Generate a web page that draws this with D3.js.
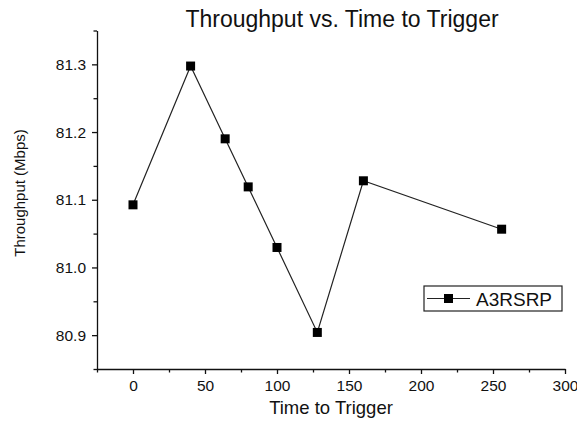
<!DOCTYPE html>
<meta charset="utf-8">
<style>
body { margin: 0; background: #fff; }
text { font-family: Arial, "Liberation Sans", sans-serif; fill: #111; }
.axis path, .axis line { stroke: #111; stroke-width: 1.3px; }
</style>
<svg width="577" height="423"></svg>
<script src="https://cdn.jsdelivr.net/npm/d3@7"></script>
<script>

var ttt = [0, 40, 64, 80, 100, 128, 160, 256];
var throughput = [81.0925, 81.2975, 81.190, 81.119, 81.0295, 80.904, 81.128, 81.0565];
var xTicks = [0, 50, 100, 150, 200, 250, 300];
var xMinor = [-25, 25, 75, 125, 175, 225, 275];
var yTicks = [80.9, 81.0, 81.1, 81.2, 81.3];
var yMinor = [80.85, 80.95, 81.05, 81.15, 81.25, 81.35];
var seriesName = "A3RSRP";

var svg = d3.select("svg");

var x = d3.scaleLinear().domain([-25, 300]).range([97, 565]);
var y = d3.scaleLinear().domain([80.85, 81.35]).range([369, 30.5]);

// minor ticks first
svg.append("g")
    .attr("class", "axis")
    .attr("transform", "translate(0,369)")
    .call(d3.axisBottom(x).tickValues(xMinor).tickSize(3.5).tickFormat(""))
    .select(".domain").remove();

svg.append("g")
    .attr("class", "axis")
    .attr("transform", "translate(97,0)")
    .call(d3.axisLeft(y).tickValues(yMinor).tickSize(3.5).tickFormat(""))
    .select(".domain").remove();

var xAxis = svg.append("g")
    .attr("class", "axis")
    .attr("transform", "translate(0,369)")
    .call(d3.axisBottom(x).tickValues(xTicks).tickSizeInner(5).tickSizeOuter(0).tickPadding(6));
xAxis.selectAll("text").style("font-size", "15.5px");

var yAxis = svg.append("g")
    .attr("class", "axis")
    .attr("transform", "translate(97,0)")
    .call(d3.axisLeft(y).tickValues(yTicks).tickFormat(d3.format(".1f")).tickSizeInner(5).tickSizeOuter(0).tickPadding(6));
yAxis.selectAll("text").style("font-size", "15.5px");

// series
var pts = ttt.map(function(d, i) { return [d, throughput[i]]; });

svg.append("path")
    .datum(pts)
    .attr("fill", "none")
    .attr("stroke", "#222")
    .attr("stroke-width", 1.2)
    .attr("d", d3.line().x(function(d) { return x(d[0]); }).y(function(d) { return y(d[1]); }));

svg.selectAll("rect.pt")
    .data(pts)
    .enter().append("rect")
      .attr("class", "pt")
      .attr("x", function(d) { return x(d[0]) - 4.5; })
      .attr("y", function(d) { return y(d[1]) - 4.5; })
      .attr("width", 9)
      .attr("height", 9)
      .attr("fill", "#000");

// titles
svg.append("text")
    .attr("x", 342)
    .attr("y", 27)
    .attr("text-anchor", "middle")
    .style("font-size", "23px")
    .text("Throughput vs. Time to Trigger");

svg.append("text")
    .attr("x", 331)
    .attr("y", 414)
    .attr("text-anchor", "middle")
    .style("font-size", "18.5px")
    .text("Time to Trigger");

svg.append("text")
    .attr("transform", "translate(25,193) rotate(-90)")
    .attr("text-anchor", "middle")
    .style("font-size", "15px")
    .text("Throughput (Mbps)");

// legend
var lg = svg.append("g").attr("transform", "translate(424,286)");
lg.append("rect")
    .attr("width", 138)
    .attr("height", 25)
    .attr("fill", "#fff")
    .attr("stroke", "#222")
    .attr("stroke-width", 1.2);
lg.append("line")
    .attr("x1", 3).attr("x2", 46)
    .attr("y1", 12.5).attr("y2", 12.5)
    .attr("stroke", "#222")
    .attr("stroke-width", 1.2);
lg.append("rect")
    .attr("x", 20).attr("y", 8)
    .attr("width", 9).attr("height", 9)
    .attr("fill", "#000");
lg.append("text")
    .attr("x", 52)
    .attr("y", 19.5)
    .style("font-size", "19px")
    .text(seriesName);

</script>
